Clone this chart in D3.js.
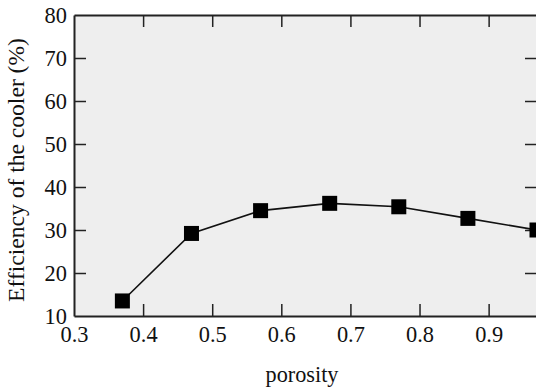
<!DOCTYPE html>
<html><head><meta charset="utf-8">
<script src="https://cdn.jsdelivr.net/npm/d3@7"></script>
<style>body{margin:0;background:#fff}svg{display:block}</style>
</head><body>
<svg id="c" width="536" height="390" font-family="Liberation Serif"></svg>
<script>
const porosity = [0.37, 0.47, 0.57, 0.67, 0.77, 0.87, 0.97];
const efficiency = [13.5, 29.2, 34.5, 36.2, 35.4, 32.7, 30.0];
const xTicks = [0.3, 0.4, 0.5, 0.6, 0.7, 0.8, 0.9];
const yTicks = [10, 20, 30, 40, 50, 60, 70, 80];

const FONT = "Liberation Serif";
const svg = d3.select("#c");
const L = 74, R = 537, T = 15, B = 316;
const x = d3.scaleLinear().domain([0.3, 0.97]).range([L, R]);
const y = d3.scaleLinear().domain([10, 80]).range([B, T]);

svg.append("rect").attr("x", L).attr("y", T).attr("width", R - L).attr("height", B - T)
  .attr("fill", "#eeeeee");

const tl = 12;
const frame = "#222";
const gx = svg.append("g").attr("transform", `translate(0,${B})`)
  .call(d3.axisBottom(x).tickValues(xTicks).tickFormat(d3.format(".1f")).tickSizeInner(-tl).tickSizeOuter(0).tickPadding(10));
const gxt = svg.append("g").attr("transform", `translate(0,${T})`)
  .call(d3.axisTop(x).tickValues(xTicks).tickFormat("").tickSizeInner(-tl).tickSizeOuter(0));
const gy = svg.append("g").attr("transform", `translate(${L},0)`)
  .call(d3.axisLeft(y).tickValues(yTicks).tickSizeInner(-tl).tickSizeOuter(0).tickPadding(7));
const gyr = svg.append("g").attr("transform", `translate(${R},0)`)
  .call(d3.axisRight(y).tickValues(yTicks).tickFormat("").tickSizeInner(-tl).tickSizeOuter(0));

[gx, gxt, gy, gyr].forEach(g => {
  g.attr("font-family", FONT).attr("font-size", 22);
  g.select(".domain").attr("stroke", frame).attr("stroke-width", 2);
  g.selectAll(".tick line").attr("stroke", frame).attr("stroke-width", 1.5);
  g.selectAll(".tick text").attr("font-family", FONT).attr("font-size", 22).attr("fill", "#111");
});
gx.selectAll(".tick text").attr("dy", "0.71em");
gy.selectAll(".tick text").attr("dy", "0.35em");
gx.selectAll(".tick line").filter(d => d === 0.3).remove();
gxt.selectAll(".tick line").filter(d => d === 0.3).remove();
gy.selectAll(".tick line").filter(d => d === 10 || d === 80).remove();
gyr.selectAll(".tick line").filter(d => d === 10 || d === 80).remove();

// fit tick label size so "0.3" is ~28px wide
const t03 = gx.selectAll(".tick text").filter(d => d === 0.3).node();
if (t03) {
  const w = t03.getComputedTextLength();
  if (w > 0) {
    const fs = Math.max(18, Math.min(26, 22 * 28 / w));
    [gx, gy].forEach(g => g.selectAll(".tick text").attr("font-size", fs));
  }
}

const pts = porosity.map((p, i) => [p, efficiency[i]]);
svg.append("path").datum(pts)
  .attr("d", d3.line().x(d => x(d[0])).y(d => y(d[1])))
  .attr("fill", "none").attr("stroke", "#111").attr("stroke-width", 1.6);

const s = 15;
svg.selectAll("rect.pt").data(pts).join("rect").attr("class", "pt")
  .attr("x", d => x(d[0]) - s / 2).attr("y", d => y(d[1]) - s / 2)
  .attr("width", s).attr("height", s).attr("fill", "#000");

function fit(sel, target, base) {
  const w = sel.node().getComputedTextLength();
  if (w > 0) sel.attr("font-size", Math.max(16, Math.min(26, base * target / w)));
}
const xl = svg.append("text").attr("x", 302).attr("y", 382).attr("text-anchor", "middle")
  .attr("font-family", FONT).attr("font-size", 21).attr("fill", "#111").text("porosity");
fit(xl, 73, 21);
const yl = svg.append("text").attr("transform", `translate(24,170) rotate(-90)`)
  .attr("text-anchor", "middle").attr("font-family", FONT).attr("font-size", 21)
  .attr("fill", "#111").text("Efficiency of the cooler (%)");
fit(yl, 264, 21);
</script>
</body></html>
